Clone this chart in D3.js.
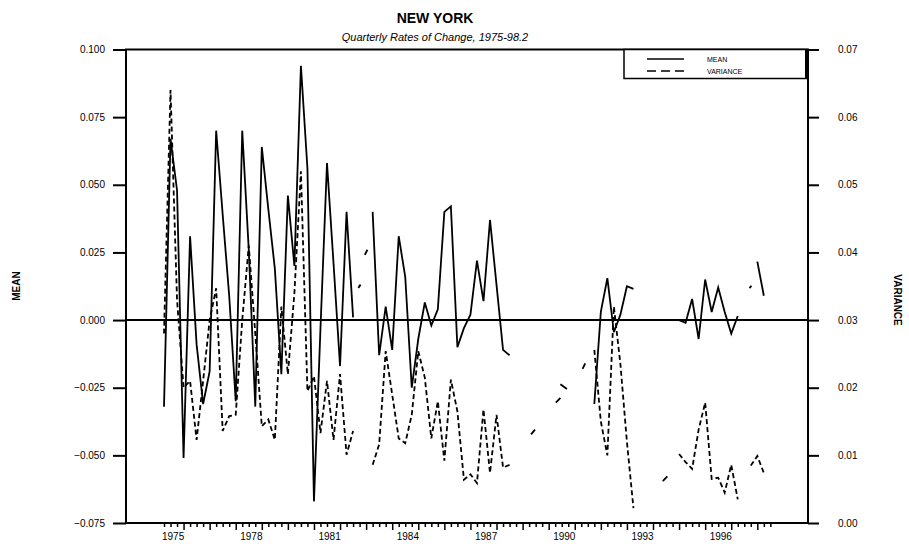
<!DOCTYPE html>
<html><head><meta charset="utf-8">
<script src="https://cdn.jsdelivr.net/npm/d3@7"></script>
<style>body{margin:0;background:#fff}svg{display:block}text{font-family:"Liberation Sans",Arial,sans-serif}</style>
</head><body>
<svg id="c" width="909" height="548"></svg>
<script>
// ---------- data ----------
const yearLabels = [1975,1978,1981,1984,1987,1990,1993,1996];
const meanTicks = [-0.075,-0.050,-0.025,0.000,0.025,0.050,0.075,0.100];
const varTicks = [0.00,0.01,0.02,0.03,0.04,0.05,0.06,0.07];
const quarters = [];
for (let y = 1975; y <= 1998; y++) for (let q = 1; q <= 4; q++) if (!(y === 1998 && q > 2)) quarters.push(y + "Q" + q);

const mean = [
 -0.032, 0.067, 0.048,-0.051, 0.031,-0.009,-0.031,-0.019, 0.070, 0.039,
  0.009,-0.030, 0.070, 0.026,-0.032, 0.064, 0.041, 0.019,-0.020, 0.046,
  0.020, 0.094, 0.056,-0.067,-0.003, 0.058, 0.021,-0.017, 0.040, 0.001,
  null, null, 0.040,-0.013, 0.005,-0.011, 0.031, 0.016,-0.025,-0.007,
  0.0065,-0.002, 0.004, 0.040, 0.042,-0.010,-0.003, 0.002, 0.022, 0.007,
  0.037, 0.013,-0.011,-0.013, null, null, null, null, null, null,
  null, null, null, null, null, null,-0.031, 0.003, 0.0155,-0.0045,
  0.002, 0.0125, 0.0115, null, null, null, null, null, null, 0.000,
 -0.001, 0.0078,-0.007, 0.015, 0.003, 0.012, 0.003,-0.005, 0.0015, null,
  null, 0.0216, 0.009, null
];
const variance = [
  0.028, 0.064, 0.033, 0.020, 0.021, 0.0123, 0.021, 0.030, 0.0347, 0.0136,
  0.0158, 0.016, 0.030, 0.041, 0.028, 0.0143, 0.0153, 0.0123, 0.032, 0.022,
  0.034, 0.052, 0.0195, 0.0217, 0.0133, 0.021, 0.0123, 0.022, 0.0101, 0.0136,
  null, null, 0.0086, 0.0116, 0.0254, 0.0190, 0.0125, 0.0118, 0.0160, 0.0254,
  0.0215, 0.0125, 0.0180, 0.0092, 0.0212, 0.0165, 0.0064, 0.0072, 0.0059, 0.0168,
  0.0074, 0.0160, 0.0082, 0.0086, null, null, null, null, null, null,
  null, null, null, null, null, null, 0.0256, 0.0150, 0.0100, 0.032,
  0.0235, 0.012, 0.0022, null, null, null, null, null, null, 0.0102,
  0.0090, 0.0080, 0.0138, 0.0178, 0.0065, 0.0067, 0.0045, 0.0086, 0.0035, null,
  0.0085, 0.0099, 0.0074, null
];
// short isolated fragments: [quarter index from, value from, quarter index to, value to]
const meanFragments = [[29.8,0.0119,30.15,0.0131],[30.8,0.0241,31.2,0.0260],[89.8,0.0118,90.1,0.0127]];
const varFragments = [[56.3,0.0131,56.9,0.0138],[60.1,0.0178,60.8,0.0185],[60.8,0.0205,61.8,0.0198],[64.2,0.0228,64.6,0.0236],[76.5,0.0062,77.2,0.0069]];

// ---------- layout ----------
const L = 126, R = 808, T = 49.5, B = 523;
const svg = d3.select("#c");
const x = d3.scaleLinear().domain([0, quarters.length - 1]).range([164, 164 + 93 * 6.52]);
const yM = d3.scaleLinear().domain([-0.075, 0.100]).range([B, T]);
const yV = d3.scaleLinear().domain([0, 0.07]).range([B, T]);

// titles
svg.append("text").attr("x", 435).attr("y", 23).attr("text-anchor", "middle")
  .attr("font-size", 14).attr("font-weight", "bold").text("NEW YORK");
svg.append("text").attr("x", 435).attr("y", 41).attr("text-anchor", "middle")
  .attr("font-size", 11).attr("font-style", "italic").text("Quarterly Rates of Change, 1975-98.2");

// left axis
const gl = svg.append("g").attr("transform", `translate(${L},0)`)
  .call(d3.axisLeft(yM).tickValues(meanTicks).tickFormat(d3.format(".3f")).tickSize(13).tickSizeOuter(0).tickPadding(8));
gl.select(".domain").remove();
gl.selectAll("line").attr("stroke-width", 2);
gl.selectAll("text").attr("font-size", 10).attr("font-family", "Liberation Sans, Arial");

// right axis
const gr = svg.append("g").attr("transform", `translate(${R},0)`)
  .call(d3.axisRight(yV).tickValues(varTicks).tickFormat(d3.format(".2f")).tickSize(11).tickSizeOuter(0).tickPadding(19));
gr.select(".domain").remove();
gr.selectAll("line").attr("stroke-width", 2);
gr.selectAll("text").attr("font-size", 10).attr("font-family", "Liberation Sans, Arial");

// bottom axis: quarterly ticks
const gb = svg.append("g").attr("transform", `translate(0,${B})`)
  .call(d3.axisBottom(x).tickValues(d3.range(quarters.length)).tickFormat("").tickSize(4).tickSizeOuter(0));
gb.select(".domain").remove();
gb.selectAll(".tick line").attr("stroke-width", 1.5)
  .attr("y2", (d) => (d % 4 === 3 ? 7 : 4));
svg.append("g").selectAll("text").data(yearLabels).join("text")
  .attr("x", (d) => x((d - 1975) * 4 + 1.4)).attr("y", 540).attr("text-anchor", "middle")
  .attr("font-size", 10).text((d) => d);

// frame
svg.append("rect").attr("x", L).attr("y", T).attr("width", R - L).attr("height", B - T)
  .attr("fill", "none").attr("stroke", "#000").attr("stroke-width", 2);
// zero reference line
svg.append("line").attr("x1", L).attr("x2", R).attr("y1", yM(0)).attr("y2", yM(0))
  .attr("stroke", "#000").attr("stroke-width", 2);

// series
const lineM = d3.line().defined((d) => d != null).x((d, i) => x(i)).y((d) => yM(d));
const lineV = d3.line().defined((d) => d != null).x((d, i) => x(i)).y((d) => yV(d));
svg.append("path").attr("d", lineV(variance)).attr("fill", "none").attr("stroke", "#000")
  .attr("stroke-width", 1.8).attr("stroke-dasharray", "5,3");
svg.append("path").attr("d", lineM(mean)).attr("fill", "none").attr("stroke", "#000")
  .attr("stroke-width", 1.8).attr("stroke-linejoin", "miter");
svg.append("g").selectAll("line").data(meanFragments).join("line")
  .attr("x1", (d) => x(d[0])).attr("y1", (d) => yM(d[1])).attr("x2", (d) => x(d[2])).attr("y2", (d) => yM(d[3]))
  .attr("stroke", "#000").attr("stroke-width", 1.8);
svg.append("g").selectAll("line").data(varFragments).join("line")
  .attr("x1", (d) => x(d[0])).attr("y1", (d) => yV(d[1])).attr("x2", (d) => x(d[2])).attr("y2", (d) => yV(d[3]))
  .attr("stroke", "#000").attr("stroke-width", 1.8);

// axis titles
svg.append("text").attr("transform", "translate(20,286) rotate(-90)").attr("text-anchor", "middle")
  .attr("font-size", 10).attr("font-weight", "bold").text("MEAN");
svg.append("text").attr("transform", "translate(894,300) rotate(90)").attr("text-anchor", "middle")
  .attr("font-size", 10).attr("font-weight", "bold").text("VARIANCE");

// legend
const lg = svg.append("g");
lg.append("rect").attr("x", 624).attr("y", T).attr("width", 183).attr("height", 29)
  .attr("fill", "#fff").attr("stroke", "#000").attr("stroke-width", 1.5);
lg.append("line").attr("x1", 807).attr("x2", 807).attr("y1", T).attr("y2", T + 29).attr("stroke", "#000").attr("stroke-width", 4);
lg.append("line").attr("x1", 647).attr("x2", 684).attr("y1", 59).attr("y2", 59).attr("stroke", "#000").attr("stroke-width", 1.5);
lg.append("line").attr("x1", 647).attr("x2", 684).attr("y1", 71).attr("y2", 71).attr("stroke", "#000").attr("stroke-width", 1.5).attr("stroke-dasharray", "9,5");
lg.append("text").attr("x", 707).attr("y", 62).attr("font-size", 7).text("MEAN");
lg.append("text").attr("x", 707).attr("y", 74).attr("font-size", 7).text("VARIANCE");
</script>
</body></html>
